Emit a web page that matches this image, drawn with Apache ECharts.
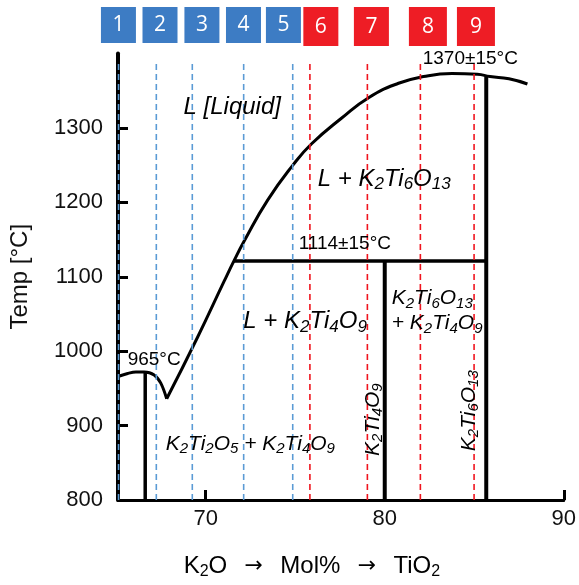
<!DOCTYPE html>
<html>
<head>
<meta charset="utf-8">
<script src="https://cdn.jsdelivr.net/npm/echarts@6/dist/echarts.min.js"></script>
<style>
  html, body { margin: 0; padding: 0; background: #fff; }
  #chart { width: 579px; height: 585px; }
</style>
</head>
<body>
<div id="chart"></div>
<script>
// axis ticks
var xTicks = [70, 80, 90]
var yTicks = [800, 900, 1000, 1100, 1200, 1300]

// liquidus: small dome on the K2O side, then the main branch after the eutectic
var liquidusLeft = [[65.1, 966], [65.64, 970], [66.1, 972], [66.56, 972], [67.12, 968], [67.49, 957], [67.82, 936]]
var liquidusMain = [[67.82, 936], [69.53, 1018], [71.03, 1094], [71.57, 1121], [72.15, 1148], [73.46, 1203],
  [74.87, 1250], [75.93, 1279], [77.58, 1313], [79.12, 1341], [80.77, 1360], [82.17, 1369],
  [83.76, 1373], [85.17, 1372], [85.88, 1369], [86.94, 1366], [87.97, 1359]]

// solid phase boundaries
var k2ti2o5Line = [[66.62, 800], [66.62, 971]]
var k2ti4o9Line = [[80, 800], [80, 1121]]
var k2ti6o13Line = [[85.67, 800], [85.67, 1369]]
var eutecticLine = [[71.57, 1121], [85.67, 1121]]

// sample compositions (numbered boxes + dashed lines)
var sampleNo = ['1', '2', '3', '4', '5', '6', '7', '8', '9']
var sampleX = [65.13, 67.24, 69.25, 72.12, 74.86, 75.82, 79.03, 81.99, 84.99]
var boxX = [65.18, 67.49, 69.82, 72.13, 74.35, 76.43, 79.24, 82.38, 85.05]
var sampleGroup = ['b', 'b', 'b', 'b', 'b', 'r', 'r', 'r', 'r']
var dashBottom = 800
var dashTop = 1388

// annotations: text, x, T
var notes = [
  { text: 'L [Liquid]', x: 71.48, y: 1327, size: 'big' },
  { text: 'L + K2Ti6O13', x: 79.97, y: 1231, size: 'big' },
  { text: 'L + K2Ti4O9', x: 75.55, y: 1040, size: 'big' },
  { text: 'K2Ti2O5 + K2Ti4O9', x: 72.49, y: 875, size: 'mid' },
  { text: 'K2Ti6O13\n+ K2Ti4O9', x: 80.39, y: 1054, size: 'mid', left: true },
  { text: 'K2Ti4O9', x: 79.35, y: 908, size: 'mid', rotate: 90 },
  { text: 'K2Ti6O13', x: 84.72, y: 920, size: 'mid', rotate: 90 },
  { text: '965°C', x: 67.12, y: 988, size: 'temp' },
  { text: '1114±15°C', x: 77.77, y: 1144, size: 'temp' },
  { text: '1370±15°C', x: 84.78, y: 1393, size: 'temp' }
]

var FONT = 'Liberation Sans, Arial, sans-serif'
var BLUE = '#3d7cc4', RED = '#ee1d25'
var DASH_BLUE = '#5b9bd5', DASH_RED = '#f0141e'

function richSet(big, small, italic) {
  return {
    n: { fontSize: big, fontStyle: italic ? 'italic' : 'normal', fontFamily: FONT, color: '#000', lineHeight: big + 4 },
    s: { fontSize: small, fontStyle: italic ? 'italic' : 'normal', fontFamily: FONT, color: '#000', lineHeight: small, verticalAlign: 'bottom' },
    a: { fontSize: big - 2, fontFamily: 'DejaVu Sans', color: '#000', lineHeight: big + 4, padding: [0, 4] }
  }
}
// digits become subscripts
function chem(t) {
  return t.split('\n').map(function (line) {
    return '{n|' + line.replace(/(\d+)/g, '}{s|$1}{n|') + '}'
  }).join('\n')
}
var richBig = richSet(24, 17, true)
var richMid = richSet(21, 15, true)

var series = []

// dashed sample lines
sampleX.forEach(function (x, i) {
  series.push({
    type: 'line', xAxisIndex: 0, yAxisIndex: 0, z: 5, symbol: 'none', silent: true,
    data: [[x, dashBottom], [x, dashTop]],
    lineStyle: { color: sampleGroup[i] === 'b' ? DASH_BLUE : DASH_RED, width: 1.6, type: [6, 4] }
  })
})

// black boundaries
function solid(data, w, smooth) {
  series.push({
    type: 'line', xAxisIndex: 0, yAxisIndex: 0, z: 3, symbol: 'none', silent: true,
    smooth: smooth || false,
    data: data, lineStyle: { color: '#000', width: w }
  })
}
solid(liquidusLeft, 3, 0.35)
solid(liquidusMain, 3, 0.5)
solid(k2ti2o5Line, 3.5)
solid(k2ti4o9Line, 4)
solid(k2ti6o13Line, 4)
solid(eutecticLine, 3.5)

// text annotations
series.push({
  type: 'scatter', xAxisIndex: 0, yAxisIndex: 0, z: 6, symbolSize: 0, silent: true, clip: false,
  itemStyle: { opacity: 1 },
  data: notes.map(function (d) {
    var isTemp = d.size === 'temp'
    return {
      value: [d.x, d.y],
      label: {
        show: true,
        position: d.left ? 'right' : 'inside',
        distance: 0,
        rotate: d.rotate || 0,
        align: d.left ? 'left' : 'center',
        formatter: isTemp ? '{n|' + d.text + '}' : chem(d.text),
        rich: isTemp ? richSet(19, 14, false) : (d.size === 'big' ? richBig : richMid)
      }
    }
  })
})

// numbered boxes
series.push({
  type: 'scatter', xAxisIndex: 1, yAxisIndex: 1, symbol: 'rect', clip: false, silent: true,
  itemStyle: { opacity: 1 },
  data: sampleNo.map(function (n, i) {
    var b = sampleGroup[i] === 'b'
    return {
      value: [boxX[i], b ? 0.5 : 0.46],
      symbolSize: b ? [35, 36] : (i >= 7 ? [38, 39] : [35, 39]),
      itemStyle: { color: b ? BLUE : RED, opacity: 1 },
      label: { show: true, position: 'inside', formatter: n, color: '#fff', fontSize: 21, fontFamily: 'Open Sans, sans-serif' }
    }
  })
})

var myChart = echarts.init(document.getElementById('chart'))
myChart.setOption({
  animation: false,
  backgroundColor: '#fff',
  grid: [
    { left: 117, right: 14, top: 53.5, bottom: 82.5 },
    { left: 117, right: 14, top: 5, height: 40 }
  ],
  xAxis: [
    {
      type: 'value', gridIndex: 0, min: 65.1, max: 90,
      axisLine: { lineStyle: { color: '#000', width: 3 } },
      axisTick: { inside: true, length: 10, customValues: xTicks, lineStyle: { color: '#000', width: 3 } },
      axisLabel: { customValues: xTicks, fontSize: 22, margin: 8, color: '#111', fontFamily: FONT },
      splitLine: { show: false },
      name: '{n|K}{s|2}{n|O  }{a|→}{n|  Mol%  }{a|→}{n|  TiO}{s|2}',
      nameLocation: 'middle', nameGap: 52,
      nameTextStyle: { padding: [0, 58, 0, 0], rich: richSet(24, 16, false) }
    },
    { type: 'value', gridIndex: 1, min: 65.1, max: 90, show: false }
  ],
  yAxis: [
    {
      type: 'value', gridIndex: 0, min: 800, max: 1400,
      axisLine: { lineStyle: { color: '#000', width: 4 } },
      axisTick: { inside: true, length: 10, customValues: yTicks, lineStyle: { color: '#000', width: 3 } },
      axisLabel: { customValues: yTicks, fontSize: 22, margin: 15, color: '#111', fontFamily: FONT,
        formatter: function (v) { return String(v) } },
      splitLine: { show: false },
      name: 'Temp [°C]', nameLocation: 'middle', nameGap: 86,
      nameTextStyle: { fontSize: 24, color: '#111', fontFamily: FONT }
    },
    { type: 'value', gridIndex: 1, min: 0, max: 1, show: false }
  ],
  series: series
})
</script>
</body>
</html>
